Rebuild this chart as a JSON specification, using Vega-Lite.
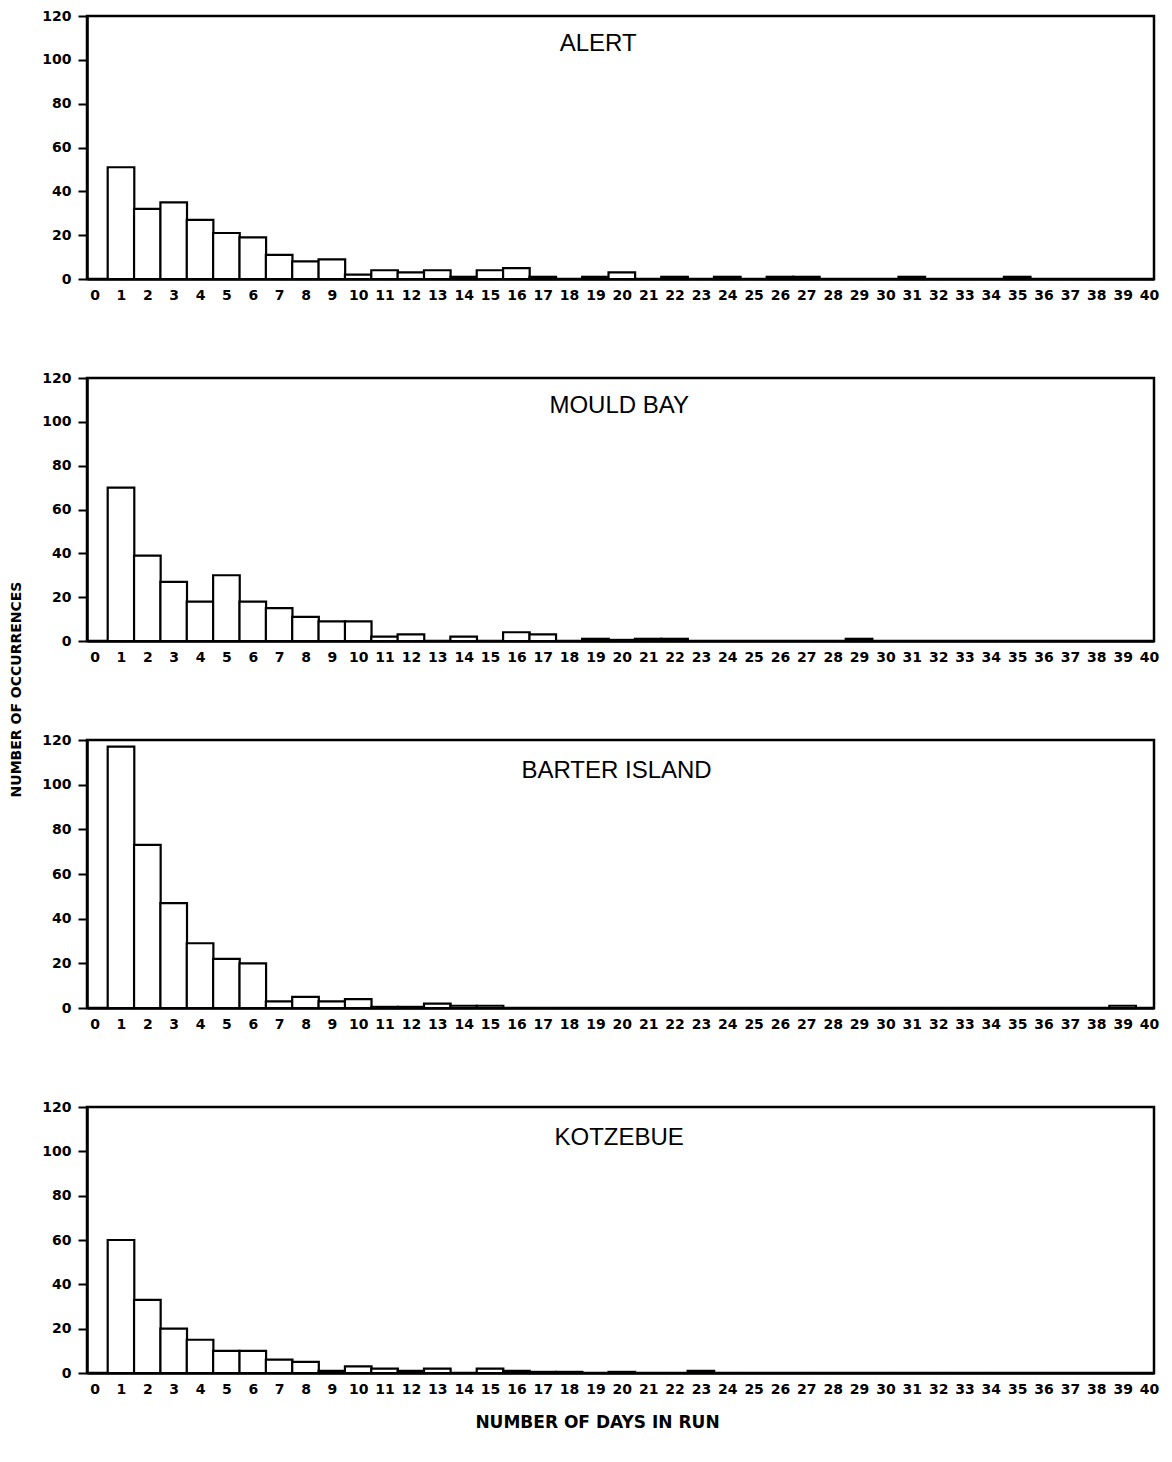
{
  "$schema": "https://vega.github.io/schema/vega-lite/v6.json",
  "padding": {"left": 9, "top": 7, "right": 5, "bottom": 5},
  "title": {"text": "NUMBER OF OCCURRENCES", "orient": "left", "anchor": "middle", "font": "DejaVu Sans", "fontSize": 14, "fontWeight": "bold", "color": "black", "offset": 17, "dx": 30},
  "spacing": 65,
  "config": {
    "view": {"stroke": "black", "strokeWidth": 2.5},
    "axis": {"labelFont": "DejaVu Sans", "labelFontWeight": "bold", "labelFontSize": 14, "labelColor": "black", "domainColor": "black", "domainWidth": 2.5, "tickColor": "black", "tickWidth": 2, "grid": false, "titleColor": "black", "titleFont": "DejaVu Sans", "titleFontWeight": "bold", "titleFontSize": 17, "labelOverlap": false},
    "bar": {"fill": "white", "stroke": "black", "strokeWidth": 2.2, "width": 26.6},
    "text": {"font": "Liberation Sans", "fontSize": 24, "color": "black"}
  },
  "datasets": {
    "runs": [
      {"station": "ALERT", "days": 1, "count": 51}, {"station": "ALERT", "days": 2, "count": 32}, {"station": "ALERT", "days": 3, "count": 35}, {"station": "ALERT", "days": 4, "count": 27}, {"station": "ALERT", "days": 5, "count": 21}, {"station": "ALERT", "days": 6, "count": 19}, {"station": "ALERT", "days": 7, "count": 11}, {"station": "ALERT", "days": 8, "count": 8}, {"station": "ALERT", "days": 9, "count": 9}, {"station": "ALERT", "days": 10, "count": 2}, {"station": "ALERT", "days": 11, "count": 4}, {"station": "ALERT", "days": 12, "count": 3}, {"station": "ALERT", "days": 13, "count": 4}, {"station": "ALERT", "days": 14, "count": 1}, {"station": "ALERT", "days": 15, "count": 4}, {"station": "ALERT", "days": 16, "count": 5}, {"station": "ALERT", "days": 17, "count": 1}, {"station": "ALERT", "days": 19, "count": 1}, {"station": "ALERT", "days": 20, "count": 3}, {"station": "ALERT", "days": 22, "count": 1}, {"station": "ALERT", "days": 24, "count": 1}, {"station": "ALERT", "days": 26, "count": 1}, {"station": "ALERT", "days": 27, "count": 1}, {"station": "ALERT", "days": 31, "count": 1}, {"station": "ALERT", "days": 35, "count": 1},
      {"station": "MOULD BAY", "days": 1, "count": 70}, {"station": "MOULD BAY", "days": 2, "count": 39}, {"station": "MOULD BAY", "days": 3, "count": 27}, {"station": "MOULD BAY", "days": 4, "count": 18}, {"station": "MOULD BAY", "days": 5, "count": 30}, {"station": "MOULD BAY", "days": 6, "count": 18}, {"station": "MOULD BAY", "days": 7, "count": 15}, {"station": "MOULD BAY", "days": 8, "count": 11}, {"station": "MOULD BAY", "days": 9, "count": 9}, {"station": "MOULD BAY", "days": 10, "count": 9}, {"station": "MOULD BAY", "days": 11, "count": 2}, {"station": "MOULD BAY", "days": 12, "count": 3}, {"station": "MOULD BAY", "days": 14, "count": 2}, {"station": "MOULD BAY", "days": 16, "count": 4}, {"station": "MOULD BAY", "days": 17, "count": 3}, {"station": "MOULD BAY", "days": 19, "count": 1}, {"station": "MOULD BAY", "days": 20, "count": 0.5}, {"station": "MOULD BAY", "days": 21, "count": 1}, {"station": "MOULD BAY", "days": 22, "count": 1}, {"station": "MOULD BAY", "days": 29, "count": 1},
      {"station": "BARTER ISLAND", "days": 1, "count": 117}, {"station": "BARTER ISLAND", "days": 2, "count": 73}, {"station": "BARTER ISLAND", "days": 3, "count": 47}, {"station": "BARTER ISLAND", "days": 4, "count": 29}, {"station": "BARTER ISLAND", "days": 5, "count": 22}, {"station": "BARTER ISLAND", "days": 6, "count": 20}, {"station": "BARTER ISLAND", "days": 7, "count": 3}, {"station": "BARTER ISLAND", "days": 8, "count": 5}, {"station": "BARTER ISLAND", "days": 9, "count": 3}, {"station": "BARTER ISLAND", "days": 10, "count": 4}, {"station": "BARTER ISLAND", "days": 11, "count": 0.5}, {"station": "BARTER ISLAND", "days": 12, "count": 0.5}, {"station": "BARTER ISLAND", "days": 13, "count": 2}, {"station": "BARTER ISLAND", "days": 14, "count": 1}, {"station": "BARTER ISLAND", "days": 15, "count": 1}, {"station": "BARTER ISLAND", "days": 39, "count": 1},
      {"station": "KOTZEBUE", "days": 1, "count": 60}, {"station": "KOTZEBUE", "days": 2, "count": 33}, {"station": "KOTZEBUE", "days": 3, "count": 20}, {"station": "KOTZEBUE", "days": 4, "count": 15}, {"station": "KOTZEBUE", "days": 5, "count": 10}, {"station": "KOTZEBUE", "days": 6, "count": 10}, {"station": "KOTZEBUE", "days": 7, "count": 6}, {"station": "KOTZEBUE", "days": 8, "count": 5}, {"station": "KOTZEBUE", "days": 9, "count": 1}, {"station": "KOTZEBUE", "days": 10, "count": 3}, {"station": "KOTZEBUE", "days": 11, "count": 2}, {"station": "KOTZEBUE", "days": 12, "count": 1}, {"station": "KOTZEBUE", "days": 13, "count": 2}, {"station": "KOTZEBUE", "days": 15, "count": 2}, {"station": "KOTZEBUE", "days": 16, "count": 1}, {"station": "KOTZEBUE", "days": 17, "count": 0.5}, {"station": "KOTZEBUE", "days": 18, "count": 0.5}, {"station": "KOTZEBUE", "days": 20, "count": 0.5}, {"station": "KOTZEBUE", "days": 23, "count": 1}
    ]
  },
  "vconcat": [
    {
      "width": 1067, "height": 263,
      "encoding": {
        "x": {"type": "quantitative", "scale": {"domain": [-0.1, 40], "nice": false, "zero": false}, "axis": {"values": [0,1,2,3,4,5,6,7,8,9,10,11,12,13,14,15,16,17,18,19,20,21,22,23,24,25,26,27,28,29,30,31,32,33,34,35,36,37,38,39,40], "ticks": false, "labelPadding": 9, "labelFlush": false, "labelOverlap": false, "labelBound": false, "title": null}},
        "y": {"type": "quantitative", "scale": {"domain": [0, 120], "nice": false}, "axis": {"values": [0, 20, 40, 60, 80, 100, 120], "tickSize": 9, "labelPadding": 7, "title": null}}
      },
      "layer": [
        {
          "data": {"name": "runs"},
          "transform": [{"filter": "datum.station == 'ALERT'"}],
          "mark": {"type": "bar"},
          "encoding": {"x": {"field": "days"}, "y": {"field": "count"}}
        },
        {
          "data": {"values": [{"name": "ALERT"}]},
          "mark": {"type": "text", "align": "center", "baseline": "middle"},
          "encoding": {"text": {"field": "name"}, "x": {"datum": 19.1}, "y": {"datum": 107}}
        }
      ]
    },
    {
      "width": 1067, "height": 263,
      "encoding": {
        "x": {"type": "quantitative", "scale": {"domain": [-0.1, 40], "nice": false, "zero": false}, "axis": {"values": [0,1,2,3,4,5,6,7,8,9,10,11,12,13,14,15,16,17,18,19,20,21,22,23,24,25,26,27,28,29,30,31,32,33,34,35,36,37,38,39,40], "ticks": false, "labelPadding": 9, "labelFlush": false, "labelOverlap": false, "labelBound": false, "title": null}},
        "y": {"type": "quantitative", "scale": {"domain": [0, 120], "nice": false}, "axis": {"values": [0, 20, 40, 60, 80, 100, 120], "tickSize": 9, "labelPadding": 7, "title": null}}
      },
      "layer": [
        {
          "data": {"name": "runs"},
          "transform": [{"filter": "datum.station == 'MOULD BAY'"}],
          "mark": {"type": "bar"},
          "encoding": {"x": {"field": "days"}, "y": {"field": "count"}}
        },
        {
          "data": {"values": [{"name": "MOULD BAY"}]},
          "mark": {"type": "text", "align": "center", "baseline": "middle"},
          "encoding": {"text": {"field": "name"}, "x": {"datum": 19.9}, "y": {"datum": 107}}
        }
      ]
    },
    {
      "width": 1067, "height": 268,
      "encoding": {
        "x": {"type": "quantitative", "scale": {"domain": [-0.1, 40], "nice": false, "zero": false}, "axis": {"values": [0,1,2,3,4,5,6,7,8,9,10,11,12,13,14,15,16,17,18,19,20,21,22,23,24,25,26,27,28,29,30,31,32,33,34,35,36,37,38,39,40], "ticks": false, "labelPadding": 9, "labelFlush": false, "labelOverlap": false, "labelBound": false, "title": null}},
        "y": {"type": "quantitative", "scale": {"domain": [0, 120], "nice": false}, "axis": {"values": [0, 20, 40, 60, 80, 100, 120], "tickSize": 9, "labelPadding": 7, "title": null}}
      },
      "layer": [
        {
          "data": {"name": "runs"},
          "transform": [{"filter": "datum.station == 'BARTER ISLAND'"}],
          "mark": {"type": "bar"},
          "encoding": {"x": {"field": "days"}, "y": {"field": "count"}}
        },
        {
          "data": {"values": [{"name": "BARTER ISLAND"}]},
          "mark": {"type": "text", "align": "center", "baseline": "middle"},
          "encoding": {"text": {"field": "name"}, "x": {"datum": 19.8}, "y": {"datum": 106}}
        }
      ]
    },
    {
      "width": 1067, "height": 266,
      "encoding": {
        "x": {"type": "quantitative", "scale": {"domain": [-0.1, 40], "nice": false, "zero": false}, "axis": {"values": [0,1,2,3,4,5,6,7,8,9,10,11,12,13,14,15,16,17,18,19,20,21,22,23,24,25,26,27,28,29,30,31,32,33,34,35,36,37,38,39,40], "ticks": false, "labelPadding": 9, "labelFlush": false, "labelOverlap": false, "labelBound": false, "title": "NUMBER OF DAYS IN RUN", "titlePadding": 18, "titleX": 510}},
        "y": {"type": "quantitative", "scale": {"domain": [0, 120], "nice": false}, "axis": {"values": [0, 20, 40, 60, 80, 100, 120], "tickSize": 9, "labelPadding": 7, "title": null}}
      },
      "layer": [
        {
          "data": {"name": "runs"},
          "transform": [{"filter": "datum.station == 'KOTZEBUE'"}],
          "mark": {"type": "bar"},
          "encoding": {"x": {"field": "days"}, "y": {"field": "count"}}
        },
        {
          "data": {"values": [{"name": "KOTZEBUE"}]},
          "mark": {"type": "text", "align": "center", "baseline": "middle"},
          "encoding": {"text": {"field": "name"}, "x": {"datum": 19.9}, "y": {"datum": 106}}
        }
      ]
    }
  ]
}
